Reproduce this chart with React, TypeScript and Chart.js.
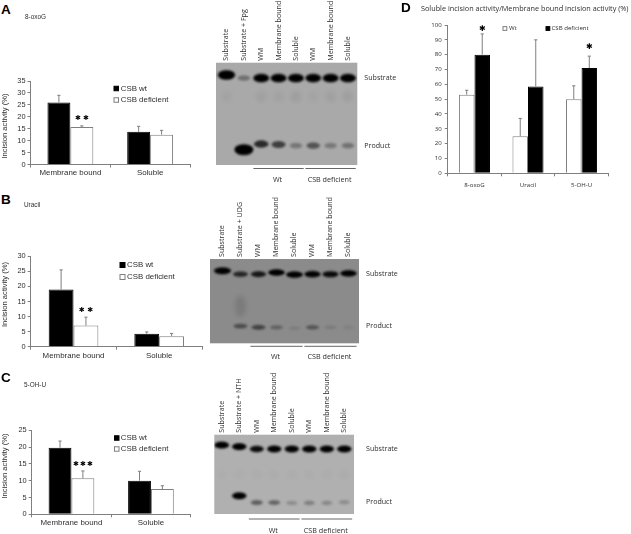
import React, { useEffect, useRef } from "react";
import { Chart, registerables } from "chart.js";

Chart.register(...registerables);

// ---------- Data: bar panels ----------
const fractions = ["Membrane bound", "Soluble"];
const aWt = [26, 13.7];
const aWtErr = [3, 2.3];
const aDef = [15.7, 12.5];
const aDefErr = [0.5, 1.8];
const bWt = [19, 4.3];
const bWtErr = [6.5, 0.6];
const bDef = [7, 3.5];
const bDefErr = [2.8, 0.9];
const cWt = [19.8, 10];
const cWtErr = [2, 2.8];
const cDef = [10.7, 7.5];
const cDefErr = [2.2, 1];
const lesions = ["8-oxoG", "Uracil", "5-OH-U"];
const dWt = [53, 25, 50];
const dWtErr = [3, 12, 9];
const dDef = [80, 58.5, 71];
const dDefErr = [14, 31.5, 8];

// significance marks: [category, height on the value axis, number of stars]
const aStars = [[0, 19.5, 2]];
const bStars = [[0, 12.2, 2]];
const cStars = [[0, 15, 3]];
const dStars = [[0, 97.5, 1], [2, 85, 1]];

// ---------- Data: gels (migration in % of gel height, darkness by lane) ----------
const laneNumbers = [1, 2, 3, 4, 5, 6, 7, 8];
const gelALanes = ["Substrate", "Substrate + Fpg", "WM", "Membrane bound", "Soluble", "WM", "Membrane bound", "Soluble"];
const gelBLanes = ["Substrate", "Substrate + UDG", "WM", "Membrane bound", "Soluble", "WM", "Membrane bound", "Soluble"];
const gelCLanes = ["Substrate", "Substrate + NTH", "WM", "Membrane bound", "Soluble", "WM", "Membrane bound", "Soluble"];
const gelBandNames = ["Substrate", "Product"];
const gelGroups = ["Wt", "CSB deficient"];

const gelASubstrateY = [12, 15, 15, 15, 15, 15, 15, 15];
const gelASubstrate = [1.25, 0.32, 1, 1, 1, 0.95, 1, 1];
const gelAProductY = [81, 85, 79.5, 80, 81, 81, 81, 81];
const gelAProduct = [0, 1.6, 0.72, 0.6, 0.3, 0.48, 0.28, 0.32];
const gelASmearY = [33, 33, 33, 33, 33, 33, 33, 33];
const gelASmear = [0.03, 0, 0.05, 0.04, 0.06, 0.03, 0.05, 0.06];

const gelBSubstrateY = [14, 18, 18, 16, 18.5, 18, 18, 17];
const gelBSubstrate = [1.1, 0.7, 0.8, 1, 1.05, 0.95, 0.9, 1];
const gelBProductY = [81, 79.5, 81, 81, 82, 81, 81, 81];
const gelBProduct = [0, 0.45, 0.5, 0.3, 0.1, 0.38, 0.12, 0.07];
const gelBSmearY = [50, 56, 50, 50, 50, 50, 50, 50];
const gelBSmear = [0, 0.11, 0, 0, 0, 0, 0, 0];

const gelCSubstrateY = [13, 15, 18, 18, 18, 18, 18, 18];
const gelCSubstrate = [1.05, 1, 0.9, 0.95, 0.95, 1, 0.95, 1];
const gelCProductY = [85, 77, 85.5, 85.5, 86, 86, 86, 85];
const gelCProduct = [0, 1, 0.45, 0.4, 0.2, 0.27, 0.22, 0.2];
const gelCSmearY = [50, 50, 50, 50, 50, 50, 50, 50];
const gelCSmear = [0.015, 0.015, 0.02, 0.02, 0.02, 0.02, 0.02, 0.02];

const AXIS = "#7f7f7f";
const INK = "#2e2e2e";
const ARIAL = "'Liberation Sans', Arial, sans-serif";
const OPEN = "'Open Sans', 'Noto Sans', sans-serif";

type Rect = { l: number; t: number; r: number; b: number };

function canvasBox(p: Rect, ml: number, mt: number, mr: number, mb: number) {
  const left = Math.max(0, Math.floor(p.l - ml));
  const top = Math.max(0, Math.floor(p.t - mt));
  const right = Math.ceil(p.r + mr);
  const bottom = Math.ceil(p.b + mb);
  return { left, top, width: right - left, height: bottom - top, ml: p.l - left, mt: p.t - top, mr: right - p.r, mb: bottom - p.b };
}

// ---------- Bar panel ----------
function makeBarChart(canvas: HTMLCanvasElement, c: any) {
  const box = c.box;
  const plugin = {
    id: "panelExtras",
    afterDatasetsDraw(chart: any) {
      const ctx = chart.ctx;
      const y = chart.scales.y;
      ctx.save();
      ctx.strokeStyle = AXIS;
      ctx.lineWidth = 1;
      chart.data.datasets.forEach((ds: any, i: number) => {
        chart.getDatasetMeta(i).data.forEach((bar: any, j: number) => {
          const top = y.getPixelForValue(ds.data[j] + ds.errors[j]);
          ctx.beginPath();
          ctx.moveTo(bar.x, bar.y);
          ctx.lineTo(bar.x, top);
          ctx.moveTo(bar.x - 1.6, top);
          ctx.lineTo(bar.x + 1.6, top);
          ctx.stroke();
        });
      });
      ctx.fillStyle = "#000";
      ctx.textAlign = "center";
      ctx.textBaseline = "middle";
      ctx.font = `${c.starSize}px 'DejaVu Sans'`;
      c.stars.forEach(([cat, val, n]: number[]) => {
        const bar = chart.getDatasetMeta(1).data[cat];
        const py = y.getPixelForValue(val);
        for (let k = 0; k < n; k++) {
          ctx.fillText("\u2731", bar.x + (k - (n - 1) / 2) * c.starGap, py);
        }
      });
      ctx.restore();
    },
    afterDraw(chart: any) {
      const ctx = chart.ctx;
      ctx.save();
      ctx.textBaseline = "middle";
      ctx.font = c.legendFont;
      ctx.fillStyle = INK;
      c.legend.forEach((it: any) => {
        const bx = it.x - box.left;
        const by = it.y - box.top;
        ctx.lineWidth = 1;
        ctx.fillStyle = it.dark ? "#000" : "#fff";
        ctx.strokeStyle = it.dark ? "#000" : AXIS;
        ctx.fillRect(bx, by - it.size / 2, it.size, it.size);
        ctx.strokeRect(bx, by - it.size / 2, it.size, it.size);
        ctx.fillStyle = INK;
        ctx.textAlign = "left";
        ctx.fillText(it.label, it.tx - box.left, by);
      });
      if (c.yTitle) {
        ctx.translate(c.yTitle.x - box.left, c.yTitle.y - box.top);
        ctx.rotate(-Math.PI / 2);
        ctx.textAlign = "center";
        ctx.font = `7.6px ${ARIAL}`;
        ctx.fillStyle = INK;
        ctx.fillText("Incision activity (%)", 0, 0);
      }
      ctx.restore();
    },
  };

  return new Chart(canvas, {
    type: "bar",
    data: {
      labels: c.labels,
      datasets: c.series.map((s: any) => ({
        label: s.label,
        data: s.data,
        errors: s.err,
        backgroundColor: s.dark ? "#000" : "#fff",
        borderColor: s.dark ? "#000" : AXIS,
        borderWidth: 1,
        categoryPercentage: c.barShare,
        barPercentage: 1,
      })),
    },
    options: {
      responsive: false,
      animation: false,
      events: [],
      layout: { padding: { top: box.mt, right: box.mr, left: 0, bottom: 0 } },
      plugins: { legend: { display: false }, tooltip: { enabled: false } },
      scales: {
        x: {
          afterFit: (s: any) => { s.height = box.mb; },
          grid: { drawOnChartArea: false, color: AXIS, tickLength: 3 },
          border: { color: AXIS },
          ticks: { font: c.xFont, color: INK, padding: c.xPad, maxRotation: 0, autoSkip: false },
        },
        y: {
          min: 0,
          max: c.max,
          afterFit: (s: any) => { s.width = box.ml; },
          grid: { drawOnChartArea: false, color: AXIS, tickLength: 3 },
          border: { color: AXIS },
          ticks: { stepSize: c.step, font: c.yFont, color: INK, padding: c.yPad },
        },
      },
    } as any,
    plugins: [plugin],
  } as any);
}

// ---------- Gel panel ----------
const spriteCache = new Map<string, HTMLCanvasElement>();
function sprite(w: number, h: number, alpha: number, blur: number) {
  const key = [w, h, alpha, blur].map((v) => v.toFixed(2)).join("|");
  const hit = spriteCache.get(key);
  if (hit) return hit;
  const pad = Math.ceil(blur * 3);
  const cv = document.createElement("canvas");
  cv.width = Math.ceil(w) + pad * 2;
  cv.height = Math.ceil(h) + pad * 2;
  const g = cv.getContext("2d")!;
  g.filter = `blur(${blur}px)`;
  g.globalAlpha = alpha;
  g.fillStyle = "#000";
  g.beginPath();
  g.ellipse(cv.width / 2, cv.height / 2, w / 2, h / 2, 0, 0, Math.PI * 2);
  g.fill();
  spriteCache.set(key, cv);
  return cv;
}

function points(y: number[], v: number[]) {
  return laneNumbers.map((lane, i) => ({ x: lane, y: y[i], v: v[i] })).filter((p) => p.v > 0);
}

function makeGelChart(canvas: HTMLCanvasElement, c: any) {
  const box = c.box;
  const bandStyle = (ctx: any) => {
    const v = ctx.raw ? ctx.raw.v : 1;
    const s = Math.min(v, 1.6);
    return sprite(c.bandW * (0.68 + 0.32 * s), c.bandH * (0.5 + 0.5 * v), Math.min(1, v * 1.05), 1);
  };
  const smearStyle = (ctx: any) => {
    const v = ctx.raw ? ctx.raw.v : 0.1;
    return sprite(c.bandW * 0.7, c.bandH * (v > 0.1 ? 3.4 : 1.4), v, 2);
  };
  const plugin = {
    id: "gelExtras",
    beforeDatasetsDraw(chart: any) {
      const { ctx, chartArea: a } = chart;
      ctx.save();
      ctx.fillStyle = c.bg;
      ctx.fillRect(a.left, a.top, a.right - a.left, a.bottom - a.top);
      ctx.restore();
    },
    afterDraw(chart: any) {
      const { ctx, chartArea: a, scales } = chart;
      const x = scales.x;
      ctx.save();
      ctx.strokeStyle = "#666";
      ctx.lineWidth = 1;
      ctx.fillStyle = INK;
      ctx.textAlign = "center";
      ctx.textBaseline = "middle";
      ctx.font = `7.2px ${OPEN}`;
      [[3, 5], [6, 8]].forEach(([from, to], i) => {
        const x0 = x.getPixelForValue(from - 0.45);
        const x1 = x.getPixelForValue(to + 0.45);
        ctx.beginPath();
        ctx.moveTo(x0, a.bottom + c.lineGap);
        ctx.lineTo(x1, a.bottom + c.lineGap);
        ctx.stroke();
        ctx.fillText(gelGroups[i], (x0 + x1) / 2 - 1, a.bottom + c.labelGap);
      });
      ctx.restore();
    },
  };
  return new Chart(canvas, {
    type: "scatter",
    data: {
      datasets: [
        { label: "Smear", data: points(c.smearY, c.smear), pointStyle: smearStyle, pointRadius: 5 },
        { label: "Substrate", data: points(c.subY, c.sub), pointStyle: bandStyle, pointRadius: 5 },
        { label: "Product", data: points(c.prodY, c.prod), pointStyle: bandStyle, pointRadius: 5 },
      ],
    },
    options: {
      responsive: false,
      animation: false,
      events: [],
      layout: { padding: { left: box.ml, bottom: box.mb, top: 0, right: 0 } },
      plugins: { legend: { display: false }, tooltip: { enabled: false } },
      scales: {
        x: {
          type: "linear",
          position: "top",
          min: c.laneMin,
          max: c.laneMax,
          afterFit: (s: any) => { s.height = box.mt; },
          afterBuildTicks: (s: any) => { s.ticks = laneNumbers.map((value) => ({ value })); },
          grid: { display: false, drawTicks: false },
          border: { display: false },
          ticks: {
            minRotation: 90,
            maxRotation: 90,
            autoSkip: false,
            padding: 2,
            color: INK,
            font: { family: OPEN, size: 7.1, lineHeight: 0.01 },
            callback: (v: number) => c.lanes[v - 1],
          },
        },
        y: {
          type: "linear",
          position: "right",
          reverse: true,
          min: 0,
          max: 100,
          afterFit: (s: any) => { s.width = box.mr; },
          afterBuildTicks: (s: any) => { s.ticks = c.tickY.map((value: number) => ({ value })); },
          grid: { display: false, drawTicks: false },
          border: { display: false },
          ticks: {
            autoSkip: false,
            padding: c.rightPad,
            color: INK,
            font: { family: OPEN, size: 7.1 },
            callback: (v: number) => gelBandNames[c.tickY.indexOf(v)],
          },
        },
      },
    } as any,
    plugins: [plugin],
  } as any);
}

// ---------- Panel configuration ----------
const armFont = { family: ARIAL, size: 7.9 };
const armTick = { family: ARIAL, size: 7.4 };
const smallFont = { family: OPEN, size: 6.1 };
const legendFont = `7.9px ${ARIAL}`;

const barConfigs: any[] = [
  {
    box: canvasBox({ l: 30.5, t: 81, r: 190, b: 164.5 }, 30, 8, 6, 16),
    labels: fractions, max: 35, step: 5, barShare: 0.575, starSize: 7, starGap: 8, stars: aStars,
    series: [
      { label: "CSB wt", data: aWt, err: aWtErr, dark: true },
      { label: "CSB deficient", data: aDef, err: aDefErr, dark: false },
    ],
    legend: [
      { label: "CSB wt", dark: true, x: 114, tx: 120.7, y: 88.5, size: 4.5 },
      { label: "CSB deficient", dark: false, x: 114, tx: 120.7, y: 100, size: 4.5 },
    ],
    legendFont, xFont: armFont, yFont: armTick, xPad: 1, yPad: 2,
    yTitle: { x: 5, y: 126 },
  },
  {
    box: canvasBox({ l: 30.7, t: 256.3, r: 202, b: 346.7 }, 30, 8, 6, 14),
    labels: fractions, max: 30, step: 5, barShare: 0.58, starSize: 7, starGap: 8.6, stars: bStars,
    series: [
      { label: "CSB wt", data: bWt, err: bWtErr, dark: true },
      { label: "CSB deficient", data: bDef, err: bDefErr, dark: false },
    ],
    legend: [
      { label: "CSB wt", dark: true, x: 120, tx: 127, y: 265, size: 5 },
      { label: "CSB deficient", dark: false, x: 120, tx: 127, y: 277, size: 5 },
    ],
    legendFont, xFont: armFont, yFont: armTick, xPad: 1, yPad: 2,
    yTitle: { x: 5, y: 294.5 },
  },
  {
    box: canvasBox({ l: 31.7, t: 430.3, r: 190.7, b: 514.3 }, 31, 8, 6, 14),
    labels: fractions, max: 25, step: 5, barShare: 0.575, starSize: 7, starGap: 7, stars: cStars,
    series: [
      { label: "CSB wt", data: cWt, err: cWtErr, dark: true },
      { label: "CSB deficient", data: cDef, err: cDefErr, dark: false },
    ],
    legend: [
      { label: "CSB wt", dark: true, x: 114.5, tx: 120.7, y: 438, size: 4.5 },
      { label: "CSB deficient", dark: false, x: 114.5, tx: 120.7, y: 449, size: 4.5 },
    ],
    legendFont, xFont: armFont, yFont: armTick, xPad: 1, yPad: 2,
    yTitle: { x: 5, y: 466 },
  },
  {
    box: canvasBox({ l: 447.7, t: 25, r: 608.3, b: 173.3 }, 20, 8, 6, 18),
    labels: lesions, max: 100, step: 10, barShare: 0.58, starSize: 8, starGap: 0, stars: dStars,
    series: [
      { label: "Wt", data: dWt, err: dWtErr, dark: false },
      { label: "CSB deficient", data: dDef, err: dDefErr, dark: true },
    ],
    legend: [
      { label: "Wt", dark: false, x: 503, tx: 509, y: 28.5, size: 3.8 },
      { label: "CSB deficient", dark: true, x: 546, tx: 551.5, y: 28.5, size: 3.8 },
    ],
    legendFont: `6.1px ${OPEN}`, xFont: smallFont, yFont: smallFont, xPad: 5, yPad: 3,
  },
];

const gelConfigs: any[] = [
  {
    box: canvasBox({ l: 216, t: 62.7, r: 357.3, b: 165 }, 8, 63, 46, 22),
    bg: "#a9a9a9", laneMin: 0.395, laneMax: 8.54, lanes: gelALanes, tickY: [15, 81], rightPad: 7,
    subY: gelASubstrateY, sub: gelASubstrate, prodY: gelAProductY, prod: gelAProduct, smearY: gelASmearY, smear: gelASmear,
    bandW: 16, bandH: 8.5, lineGap: 3.5, labelGap: 15,
  },
  {
    box: canvasBox({ l: 208.3, t: 259, r: 359, b: 343.3 }, 4, 62, 46, 20),
    bg: "#8b8b8b", laneMin: 0.306, laneMax: 8.585, lanes: gelBLanes, tickY: [17.8, 80], rightPad: 7,
    subY: gelBSubstrateY, sub: gelBSubstrate, prodY: gelBProductY, prod: gelBProduct, smearY: gelBSmearY, smear: gelBSmear,
    bandW: 16.5, bandH: 6.5, lineGap: 3, labelGap: 13.5,
  },
  {
    box: canvasBox({ l: 214.3, t: 434.7, r: 354, b: 514 }, 6, 62, 50, 20),
    bg: "#b0b0b0", laneMin: 0.577, laneMax: 8.554, lanes: gelCLanes, tickY: [18.4, 84.9], rightPad: 12,
    subY: gelCSubstrateY, sub: gelCSubstrate, prodY: gelCProductY, prod: gelCProduct, smearY: gelCSmearY, smear: gelCSmear,
    bandW: 14.5, bandH: 7, lineGap: 5, labelGap: 17,
  },
];

const letters = [
  { t: "A", x: 1, y: 8.5 },
  { t: "B", x: 1, y: 199 },
  { t: "C", x: 1, y: 377 },
  { t: "D", x: 401, y: 6.5 },
];
const captions = [
  { t: "8-oxoG", x: 25, y: 16 },
  { t: "Uracil", x: 24, y: 203.7 },
  { t: "5-OH-U", x: 24, y: 384 },
];
const dTitle = "Soluble incision activity/Membrane bound incision activity (%)";

const textBase: React.CSSProperties = { position: "absolute", whiteSpace: "nowrap", transform: "translateY(-50%)", lineHeight: 1 };

function Panel({ cfg, make }: { cfg: any; make: (c: HTMLCanvasElement, cfg: any) => Chart }) {
  const ref = useRef<HTMLCanvasElement>(null);
  useEffect(() => {
    const chart = make(ref.current!, cfg);
    return () => chart.destroy();
  }, []);
  const b = cfg.box;
  return (
    <canvas
      ref={ref}
      width={b.width}
      height={b.height}
      style={{ position: "absolute", left: b.left, top: b.top, display: "block" }}
    />
  );
}

export default function App() {
  return (
    <div style={{ position: "absolute", left: 0, top: 0, width: 631, height: 534, overflow: "hidden", background: "#fff" }}>
      {gelConfigs.map((cfg, i) => <Panel key={"g" + i} cfg={cfg} make={makeGelChart} />)}
      {barConfigs.map((cfg, i) => <Panel key={"b" + i} cfg={cfg} make={makeBarChart} />)}
      {letters.map((l) => (
        <div key={l.t} style={{ ...textBase, left: l.x, top: l.y, font: `bold 13.5px ${ARIAL}`, color: "#000" }}>{l.t}</div>
      ))}
      {captions.map((c) => (
        <div key={c.t} style={{ ...textBase, left: c.x, top: c.y, font: `6.4px ${ARIAL}`, color: INK }}>{c.t}</div>
      ))}
      <div style={{ ...textBase, left: 421, top: 8.3, font: `7.28px ${OPEN}`, color: INK }}>{dTitle}</div>
    </div>
  );
}
